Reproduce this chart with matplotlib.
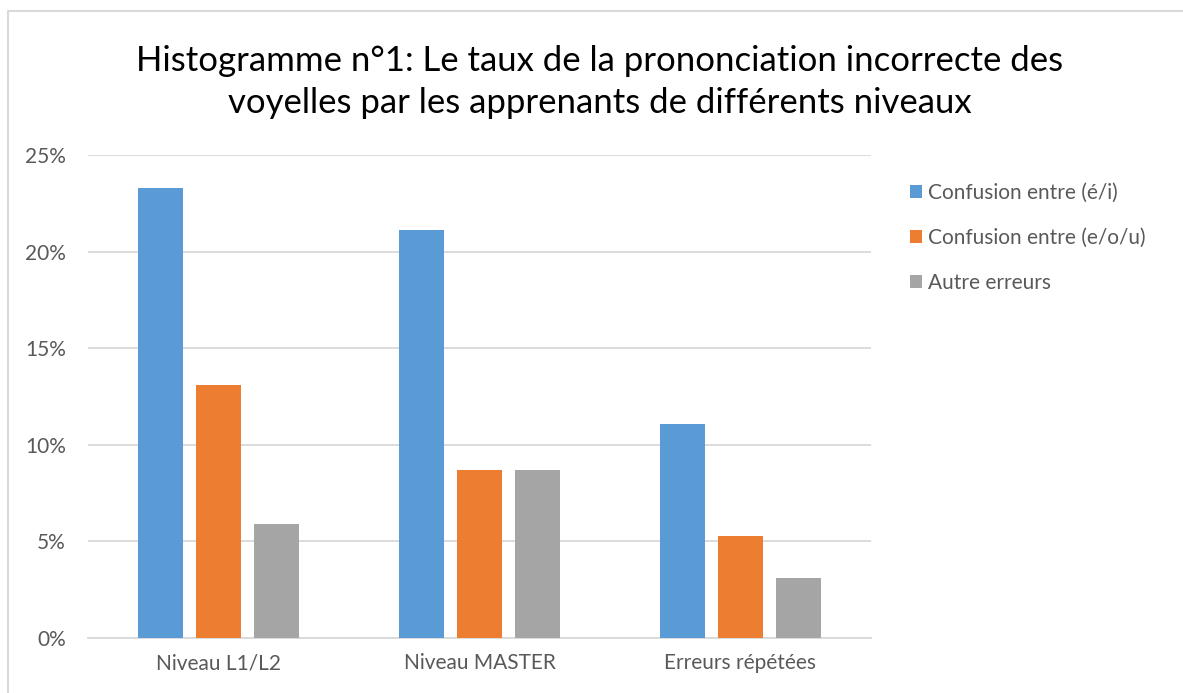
import numpy as np
import matplotlib
matplotlib.use("Agg")
import matplotlib.pyplot as plt
from matplotlib.lines import Line2D
from matplotlib.ticker import FuncFormatter

categories = ["Niveau L1/L2", "Niveau MASTER", "Erreurs répétées"]
series_names = ["Confusion entre (é/i)", "Confusion entre (e/o/u)", "Autre erreurs"]
confusion_e_i = [23.3, 21.1, 11.1]
confusion_e_o_u = [13.1, 8.7, 5.3]
autre_erreurs = [5.9, 8.7, 3.1]

colors = ["#5B9BD5", "#ED7D31", "#A5A5A5"]
text_color = "#595959"
grid_color = "#D9D9D9"

plt.rcParams["font.family"] = ["Lato", "DejaVu Sans"]

W, H = 1183, 693
fig = plt.figure(figsize=(W / 100, H / 100), dpi=100)

# bordure grise du cadre (haut et gauche seulement visibles)
fig.lines.append(Line2D([8 / W, 8 / W, 1.0], [0.0, 1 - 11 / H, 1 - 11 / H], transform=fig.transFigure,
                        color=grid_color, linewidth=1.5))

ax = fig.add_axes([88 / W, 1 - 638 / H, (871 - 88) / W, (638 - 155) / H])

x = np.arange(len(categories))
bar_w = 45 / 261
pitch = 58 / 261
all_series = [confusion_e_i, confusion_e_o_u, autre_erreurs]
for i, (vals, name) in enumerate(zip(all_series, series_names)):
    ax.bar(x + (i - 1) * pitch, vals, width=bar_w, color=colors[i], label=name, zorder=3)

ax.set_xlim(-0.5, 2.5)
ax.set_ylim(0, 25)
ax.set_yticks(np.arange(0, 26, 5))
ax.yaxis.set_major_formatter(FuncFormatter(lambda v, p: f"{v:.0f}%"))
ax.set_xticks(x)
ax.set_xticklabels(categories)
ax.grid(axis="y", color=grid_color, linewidth=1.3, zorder=0)
for s in ["top", "right", "left"]:
    ax.spines[s].set_visible(False)
ax.spines["bottom"].set_color(grid_color)
ax.spines["bottom"].set_linewidth(1.3)
ax.tick_params(axis="both", length=0, labelsize=15, colors=text_color)
ax.tick_params(axis="y", pad=16)
ax.tick_params(axis="x", pad=11)

fig.text(600 / W, 1 - 82 / H,
         "Histogramme n°1: Le taux de la prononciation incorrecte des\nvoyelles par les apprenants de différents niveaux",
         ha="center", va="center", fontsize=25, color="#000000", linespacing=1.38)

leg = fig.legend(loc="upper left", bbox_to_anchor=(891 / W, 1 - 164 / H), frameon=False,
                 fontsize=15, labelcolor=text_color, handlelength=0.6, handleheight=0.6,
                 handletextpad=0.3, labelspacing=1.2)

fig.savefig("out.png", dpi=100)
